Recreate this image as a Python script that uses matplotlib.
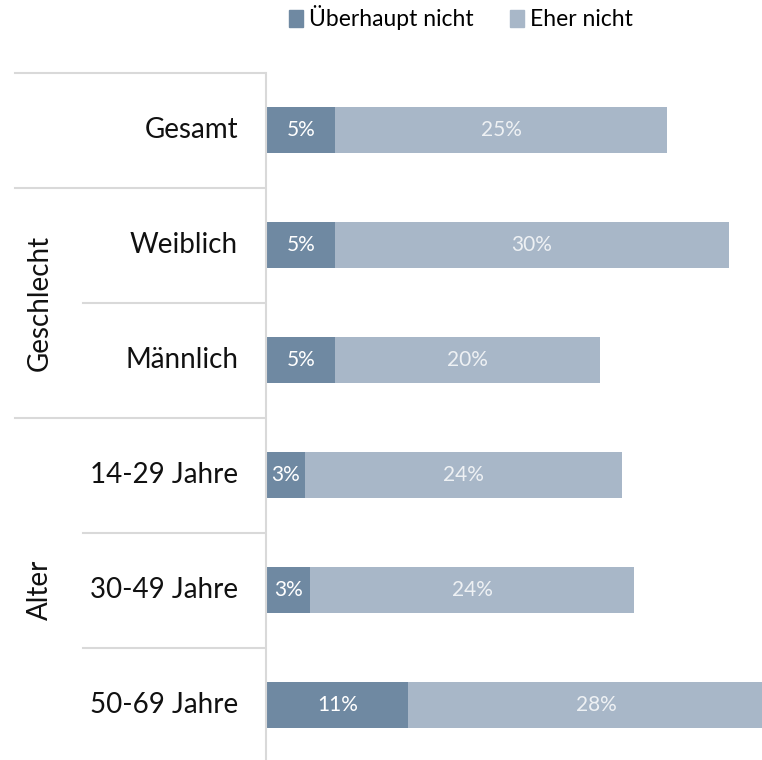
import matplotlib
matplotlib.use("Agg")
import matplotlib.pyplot as plt
from matplotlib.transforms import blended_transform_factory
from matplotlib.lines import Line2D
from matplotlib.patches import Patch

plt.rcParams['font.family'] = ['Lato', 'DejaVu Sans']

# data
categories = ['Gesamt', 'Weiblich', 'Männlich', '14-29 Jahre', '30-49 Jahre', '50-69 Jahre']
groups = [('Geschlecht', 1, 2), ('Alter', 3, 5)]
ueberhaupt_nicht = [5.1, 5.1, 5.1, 2.86, 3.23, 10.6]
eher_nicht = [25.0, 29.6, 19.9, 23.8, 24.4, 28.4]
series_names = ['Überhaupt nicht', 'Eher nicht']

c_dark = '#6f89a2'
c_light = '#a8b7c8'
c_line = '#d9d9d9'

W, H = 762, 760
fig = plt.figure(figsize=(W / 100, H / 100), dpi=100)
ax = fig.add_axes([267 / W, -2.5 / H, (W - 267) / W, 690 / H])

y = list(range(len(categories)))
ax.barh(y, ueberhaupt_nicht, height=0.4, color=c_dark)
ax.barh(y, eher_nicht, left=ueberhaupt_nicht, height=0.4, color=c_light)
ax.set_xlim(0, (W - 267) / 13.3)
ax.set_ylim(5.5, -0.5)
ax.axis('off')

for i in y:
    a, b = ueberhaupt_nicht[i], eher_nicht[i]
    ax.text(a / 2, i, f'{round(a)}%', ha='center', va='center', color='white', fontsize=15)
    ax.text(a + b / 2, i, f'{round(b)}%', ha='center', va='center', color='#eef1f4', fontsize=15)

tr = blended_transform_factory(fig.transFigure, ax.transData)
for i, name in enumerate(categories):
    fig.text(238 / W, i, name, transform=tr, ha='right', va='center', fontsize=20, color='#111111')

# separator lines
sub_rows = [r for _, s, e in groups for r in range(s + 1, e + 1)]
for k in range(len(categories)):
    x0 = 83 if k in sub_rows else 15
    fig.add_artist(Line2D([x0 / W, 265 / W], [k - 0.5, k - 0.5], transform=tr, color=c_line, lw=1.5))
fig.add_artist(Line2D([266 / W, 266 / W], [-0.5, 5.5], transform=tr, color=c_line, lw=1.5))

for name, s, e in groups:
    fig.text(40 / W, (s + e) / 2, name, transform=tr, rotation=90, ha='center', va='center',
             fontsize=20, color='#111111')

handles = [Patch(color=c_dark), Patch(color=c_light)]
fig.legend(handles, series_names, loc='center', bbox_to_anchor=(461 / W, 1 - 18 / H), ncol=2,
           frameon=False, fontsize=16.5, handlelength=0.6, handleheight=0.7, handletextpad=0.25,
           columnspacing=1.6)

fig.savefig('out.png', dpi=100)
